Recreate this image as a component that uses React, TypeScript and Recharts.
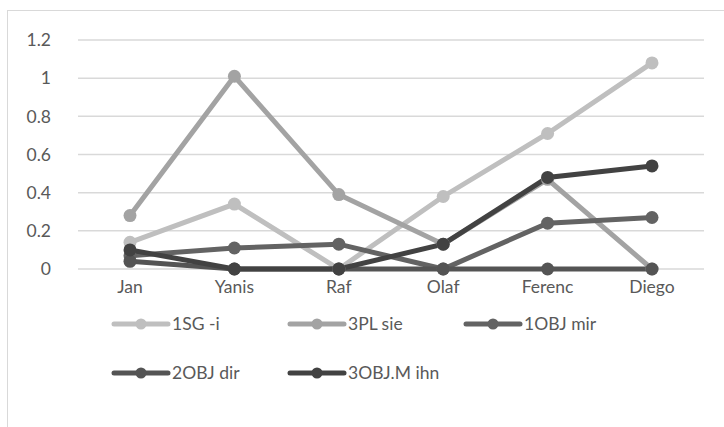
import React from 'react';
import { LineChart, Line, XAxis, YAxis, CartesianGrid } from 'recharts';

const names = ['Jan', 'Yanis', 'Raf', 'Olaf', 'Ferenc', 'Diego'];
const sg1 = [0.14, 0.34, 0, 0.38, 0.71, 1.08];
const pl3 = [0.28, 1.01, 0.39, 0.13, 0.47, 0];
const obj1 = [0.07, 0.11, 0.13, 0, 0.24, 0.27];
const obj2 = [0.04, 0, 0, 0, 0, 0];
const obj3m = [0.1, 0, 0, 0.13, 0.48, 0.54];
const yTicks = [0, 0.2, 0.4, 0.6, 0.8, 1, 1.2];

const series = [
  { key: 'sg1', name: '1SG -i', color: '#BFBFBF', values: sg1 },
  { key: 'pl3', name: '3PL sie', color: '#A3A3A3', values: pl3 },
  { key: 'obj1', name: '1OBJ mir', color: '#636363', values: obj1 },
  { key: 'obj2', name: '2OBJ dir', color: '#545454', values: obj2 },
  { key: 'obj3m', name: '3OBJ.M ihn', color: '#424242', values: obj3m },
];

const data = names.map((name, i) => {
  const row: any = { name };
  series.forEach((s) => (row[s.key] = s.values[i]));
  return row;
});

const font = 'Lato, "Open Sans", sans-serif';
const textColor = '#595959';
const fontSize = 17.5;

const LegendItem = ({ name, color }: { name: string; color: string }) => (
  <div style={{ width: 176, display: 'flex', alignItems: 'center' }}>
    <svg width={62} height={14}>
      <line x1={4} y1={7} x2={58} y2={7} stroke={color} strokeWidth={5} strokeLinecap="round" />
      <circle cx={31} cy={7} r={5.5} fill={color} />
    </svg>
    <span style={{ fontSize, color: textColor, fontFamily: font }}>{name}</span>
  </div>
);

export default function App() {
  return (
    <div style={{ position: 'absolute', left: 0, top: 0, width: 724, height: 427, overflow: 'hidden', background: '#fff' }}>
      <div
        style={{
          position: 'absolute',
          left: 7,
          top: 10,
          width: 780,
          height: 480,
          border: '1px solid #D9D9D9',
        }}
      />
      <div style={{ position: 'absolute', left: 0, top: 0 }}>
        <LineChart width={724} height={300} data={data} margin={{ top: 40, right: 20, left: 0, bottom: 0 }}>
          <CartesianGrid vertical={false} stroke="#D9D9D9" strokeWidth={1.5} />
          <XAxis
            dataKey="name"
            height={31}
            padding={{ left: 52, right: 52 }}
            axisLine={false}
            tickLine={false}
            tickSize={0}
            tickMargin={12}
            interval={0}
            tick={{ fill: textColor, fontSize, fontFamily: font }}
          />
          <YAxis
            width={78}
            domain={[0, 1.2]}
            ticks={yTicks}
            axisLine={false}
            tickLine={false}
            tickSize={0}
            tickMargin={27}
            tick={{ fill: textColor, fontSize, fontFamily: font }}
          />
          {series.map((s) => (
            <Line
              key={s.key}
              dataKey={s.key}
              name={s.name}
              type="linear"
              stroke={s.color}
              strokeWidth={5}
              dot={{ r: 6.5, fill: s.color, stroke: 'none' }}
              isAnimationActive={false}
            />
          ))}
        </LineChart>
      </div>
      <div style={{ position: 'absolute', left: 110, top: 313, width: 540, display: 'flex', flexWrap: 'wrap', rowGap: 28 }}>
        {series.map((s) => (
          <LegendItem key={s.key} name={s.name} color={s.color} />
        ))}
      </div>
    </div>
  );
}
